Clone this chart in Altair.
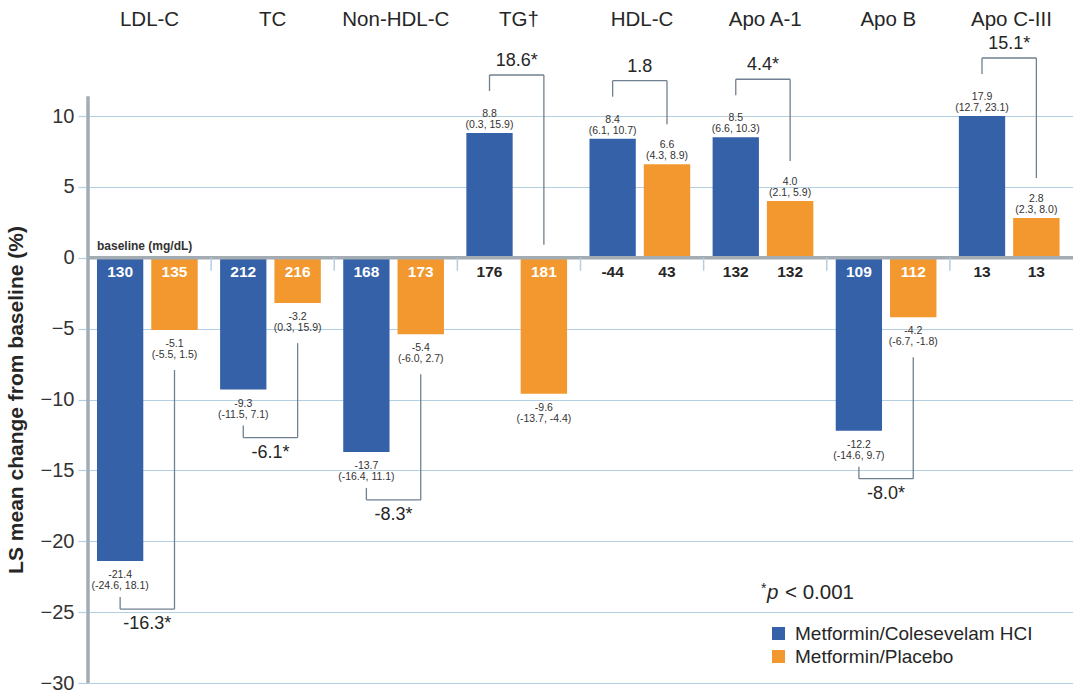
import altair as alt
import pandas as pd

# ---- data -------------------------------------------------------------
categories = ["LDL-C", "TC", "Non-HDL-C", "TG\u2020", "HDL-C", "Apo A-1", "Apo B", "Apo C-III"]
series_names = ["Metformin/Colesevelam HCI", "Metformin/Placebo"]

colesevelam_change = [-21.4, -9.3, -13.7, 8.8, 8.4, 8.5, -12.2, 17.9]
colesevelam_ci = ["(-24.6, 18.1)", "(-11.5, 7.1)", "(-16.4, 11.1)", "(0.3, 15.9)",
                  "(6.1, 10.7)", "(6.6, 10.3)", "(-14.6, 9.7)", "(12.7, 23.1)"]
colesevelam_baseline = ["130", "212", "168", "176", "-44", "132", "109", "13"]

placebo_change = [-5.1, -3.2, -5.4, -9.6, 6.6, 4.0, -4.2, 2.8]
placebo_ci = ["(-5.5, 1.5)", "(0.3, 15.9)", "(-6.0, 2.7)", "(-13.7, -4.4)",
              "(4.3, 8.9)", "(2.1, 5.9)", "(-6.7, -1.8)", "(2.3, 8.0)"]
placebo_baseline = ["135", "216", "173", "181", "43", "132", "112", "13"]

difference = [-16.3, -6.1, -8.3, 18.6, 1.8, 4.4, -8.0, 15.1]
significant = [True, True, True, True, False, True, True, True]

# ---- layout / style -----------------------------------------------------
W, H = 985, 567
Y_MIN, Y_MAX = -30, 10
PX = (Y_MAX - Y_MIN) / H          # data units per pixel on the y scale
FONT = "Liberation Sans"
BLUE, ORANGE = "#3461a8", "#f2982e"
INK = "#262626"
GRID = "#b4cfe2"
FRAME = "#a3abb3"
BRACKET = "#6f8090"
# position of each series' bar inside its category slot (fraction of slot)
SLOTS = {series_names[0]: (0.073, 0.449), series_names[1]: (0.514, 0.891)}

rows = []
for i, cat in enumerate(categories):
    for name, vals, cis, bases in (
        (series_names[0], colesevelam_change, colesevelam_ci, colesevelam_baseline),
        (series_names[1], placebo_change, placebo_ci, placebo_baseline),
    ):
        lo, hi = SLOTS[name]
        v = vals[i]
        rows.append(dict(
            category=cat, series=name, value=v,
            x0=i + lo, x1=i + hi, xc=i + (lo + hi) / 2,
            label=f"{v:.1f}\n{cis[i]}", anchor=min(v, Y_MAX), base=bases[i],
        ))
bars_df = pd.DataFrame(rows)

# significance brackets between the two bars of each category
seg_rows, diff_rows = [], []
for i, d in enumerate(difference):
    b = min(colesevelam_change[i], Y_MAX)
    o = placebo_change[i]
    xb = i + sum(SLOTS[series_names[0]]) / 2
    xo = i + sum(SLOTS[series_names[1]]) / 2
    if d < 0:
        h = b - 48 * PX
        left_end = b - 36 * PX
        right_end = o - 40 * PX
        side = "below"
    else:
        h = max(b, o) + 58 * PX
        left_end = b + 42 * PX
        right_end = o + 40 * PX if o > 0 else 13 * PX
        side = "above"
    seg_rows += [
        dict(x=xb, x2=xb, y=left_end, y2=h),
        dict(x=xb, x2=xo, y=h, y2=h),
        dict(x=xo, x2=xo, y=h, y2=right_end),
    ]
    diff_rows.append(dict(x=(xb + xo) / 2, y=h, side=side,
                          text=f"{d:.1f}" + ("*" if significant[i] else "")))
seg_df = pd.DataFrame(seg_rows)
diff_df = pd.DataFrame(diff_rows)

cat_df = pd.DataFrame({"category": categories, "xc": [i + 0.5 for i in range(len(categories))]})
tick_df = pd.DataFrame({"x": list(range(1, len(categories))), "y": 0.0, "y2": -13 * PX})
one = pd.DataFrame({"k": [0]})

xs = alt.Scale(domain=[0, len(categories)], nice=False, zero=False)
ys = alt.Scale(domain=[Y_MIN, Y_MAX], nice=False, zero=False)

# ---- layers -------------------------------------------------------------
bars = alt.Chart(bars_df).mark_bar(clip=True).encode(
    x=alt.X("x0:Q", scale=xs, axis=None),
    x2="x1:Q",
    y=alt.Y("value:Q", scale=ys, axis=alt.Axis(
        values=list(range(-30, 11, 5)), title="LS mean change from baseline (%)",
        titleFont=FONT, titleFontSize=21, titleFontWeight="bold", titleColor=INK,
        titlePadding=14, labelFont=FONT, labelFontSize=20, labelColor="#333333",
        labelPadding=4, labelFlush=False, labelOverlap=False, domain=False,
        tickColor=GRID, tickSize=10, tickWidth=1.2, gridColor=GRID, gridWidth=1.2)),
    y2=alt.datum(0),
    color=alt.Color("series:N", scale=alt.Scale(domain=series_names, range=[BLUE, ORANGE]),
                    legend=alt.Legend(orient="none", legendX=681, legendY=508, title=None,
                                      symbolType="square", symbolSize=169, symbolStrokeWidth=0,
                                      symbolOpacity=1, labelFont=FONT, labelFontSize=19,
                                      labelColor=INK, labelLimit=400, labelOffset=7,
                                      rowPadding=3)),
)

zero_line = alt.Chart(one).mark_rule(color=FRAME, strokeWidth=3.5).encode(
    x=alt.value(0), x2=alt.value(W), y=alt.datum(0))
y_line = alt.Chart(one).mark_rule(color=FRAME, strokeWidth=3.5).encode(
    x=alt.value(0), y=alt.datum(Y_MIN), y2=alt.datum(11.4))
group_ticks = alt.Chart(tick_df).mark_rule(color=GRID, strokeWidth=1.5).encode(
    x="x:Q", y="y:Q", y2="y2:Q")

base_vals = alt.Chart(bars_df).mark_text(
    font=FONT, fontSize=15.5, fontWeight="bold", baseline="middle", dy=14).encode(
    x="xc:Q", y=alt.datum(0), text="base:N",
    color=alt.condition("datum.value < 0", alt.value("#ffffff"), alt.value(INK)))
base_title = alt.Chart(one).mark_text(
    text="baseline (mg/dL)", font=FONT, fontSize=12, fontWeight="bold", color="#333333",
    align="left", baseline="middle", dy=-12).encode(
    x=alt.datum(SLOTS[series_names[0]][0]), y=alt.datum(0))

lab_pos = alt.Chart(bars_df).transform_filter("datum.value >= 0").mark_text(
    font=FONT, fontSize=10.5, color="#333333", baseline="bottom", lineBreak="\n",
    lineHeight=11, dy=-14).encode(x="xc:Q", y="anchor:Q", text="label:N")
lab_neg = alt.Chart(bars_df).transform_filter("datum.value < 0").mark_text(
    font=FONT, fontSize=10.5, color="#333333", baseline="top", lineBreak="\n",
    lineHeight=11, dy=9).encode(x="xc:Q", y="anchor:Q", text="label:N")

brackets = alt.Chart(seg_df).mark_rule(color=BRACKET, strokeWidth=1.3).encode(
    x="x:Q", x2="x2:Q", y="y:Q", y2="y2:Q")
diff_below = alt.Chart(diff_df).transform_filter("datum.side == 'below'").mark_text(
    font=FONT, fontSize=18, color=INK, baseline="middle", dy=15).encode(
    x="x:Q", y="y:Q", text="text:N")
diff_above = alt.Chart(diff_df).transform_filter("datum.side == 'above'").mark_text(
    font=FONT, fontSize=18, color=INK, baseline="middle", dy=-14).encode(
    x="x:Q", y="y:Q", text="text:N")

cat_titles = alt.Chart(cat_df).mark_text(
    font=FONT, fontSize=20.5, color=INK, baseline="middle").encode(
    x="xc:Q", y=alt.value(-96), text="category:N")

p_star = alt.Chart(one).mark_text(text="*", font=FONT, fontSize=14, color=INK,
                                  align="left", baseline="middle").encode(
    x=alt.value(673), y=alt.value(473))
p_p = alt.Chart(one).mark_text(text="p", font=FONT, fontSize=20.5, fontStyle="italic",
                               color=INK, align="left", baseline="middle").encode(
    x=alt.value(679), y=alt.value(477))
p_rest = alt.Chart(one).mark_text(text="< 0.001", font=FONT, fontSize=20.5, color=INK,
                                  align="left", baseline="middle").encode(
    x=alt.value(697), y=alt.value(477))

chart = alt.layer(
    bars, zero_line, y_line, group_ticks, base_vals, base_title,
    lab_pos, lab_neg, brackets, diff_below, diff_above, cat_titles,
    p_star, p_p, p_rest,
).properties(
    width=W, height=H,
    autosize=alt.AutoSizeParams(type="none"),
    padding={"left": 88, "top": 116, "right": 0, "bottom": 11},
).configure_view(strokeWidth=0).configure(background="white")

chart.save("out.html", embed_options={"renderer": "svg", "actions": False})
